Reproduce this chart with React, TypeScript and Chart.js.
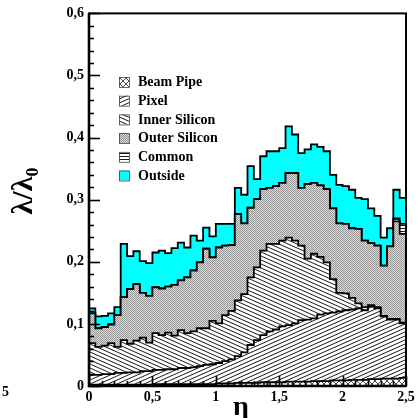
import React, { useEffect, useRef } from 'react';
import { Chart, registerables } from 'chart.js';

Chart.register(...registerables);

// ---- data (material budget per subsystem, per eta bin of width 0.05) ----
const ETA_MIN = 0;
const ETA_MAX = 2.5;
const N_BINS = 50;

const beamPipe = [
  0.002, 0.002, 0.002, 0.002, 0.002, 0.002, 0.002, 0.002, 0.002, 0.002,
  0.003, 0.003, 0.003, 0.003, 0.003, 0.003, 0.003, 0.003, 0.003, 0.003,
  0.004, 0.004, 0.004, 0.005, 0.005, 0.005, 0.005, 0.006, 0.006, 0.006,
  0.006, 0.007, 0.007, 0.007, 0.007, 0.008, 0.008, 0.008, 0.009, 0.009,
  0.009, 0.010, 0.010, 0.010, 0.011, 0.011, 0.012, 0.012, 0.012, 0.013,
];
const pixel = [
  0.016, 0.016, 0.017, 0.017, 0.019, 0.019, 0.020, 0.020, 0.022, 0.022,
  0.023, 0.023, 0.024, 0.024, 0.026, 0.026, 0.027, 0.029, 0.031, 0.032,
  0.033, 0.036, 0.039, 0.043, 0.049, 0.061, 0.069, 0.076, 0.082, 0.085,
  0.090, 0.091, 0.094, 0.099, 0.100, 0.101, 0.107, 0.109, 0.109, 0.111,
  0.113, 0.113, 0.115, 0.112, 0.117, 0.114, 0.100, 0.095, 0.095, 0.088,
];
const innerSilicon = [
  0.051, 0.045, 0.046, 0.050, 0.042, 0.053, 0.046, 0.051, 0.054, 0.046,
  0.059, 0.056, 0.059, 0.054, 0.061, 0.056, 0.058, 0.061, 0.059, 0.070,
  0.064, 0.074, 0.078, 0.090, 0.094, 0.109, 0.117, 0.136, 0.141, 0.138,
  0.138, 0.141, 0.133, 0.120, 0.098, 0.104, 0.093, 0.082, 0.054, 0.030,
  0.027, 0.019, 0.008, 0.005, 0.002, 0.002, 0.001, 0.001, 0.001, 0.001,
];
const outerSilicon = [
  0.048, 0.030, 0.030, 0.030, 0.051, 0.069, 0.088, 0.091, 0.072, 0.075,
  0.074, 0.075, 0.074, 0.082, 0.080, 0.090, 0.098, 0.106, 0.128, 0.102,
  0.122, 0.112, 0.106, 0.139, 0.114, 0.112, 0.110, 0.099, 0.090, 0.093,
  0.093, 0.104, 0.109, 0.093, 0.120, 0.114, 0.115, 0.118, 0.114, 0.112,
  0.112, 0.112, 0.120, 0.107, 0.100, 0.099, 0.081, 0.117, 0.157, 0.143,
];
const common = [
  0, 0, 0, 0, 0, 0, 0, 0, 0, 0,
  0, 0, 0, 0, 0, 0, 0, 0, 0, 0,
  0, 0, 0, 0, 0, 0, 0, 0, 0, 0,
  0, 0, 0, 0, 0, 0, 0, 0, 0, 0,
  0, 0, 0, 0, 0, 0, 0, 0, 0.005, 0.016,
];
const outside = [
  0.008, 0.019, 0.018, 0.018, 0.013, 0.086, 0.053, 0.053, 0.051, 0.053,
  0.056, 0.061, 0.054, 0.059, 0.061, 0.048, 0.056, 0.035, 0.034, 0.034,
  0.038, 0.035, 0.034, 0.042, 0.046, 0.067, 0.032, 0.053, 0.059, 0.056,
  0.056, 0.075, 0.062, 0.056, 0.056, 0.062, 0.062, 0.061, 0.054, 0.062,
  0.061, 0.062, 0.050, 0.067, 0.056, 0.048, 0.045, 0.029, 0.046, 0.042,
];

const layerNames = ['Beam Pipe', 'Pixel', 'Inner Silicon', 'Outer Silicon', 'Common', 'Outside'];
const yMajorTicks = [0, 0.1, 0.2, 0.3, 0.4, 0.5, 0.6];
const xMajorTicks = [0, 0.5, 1, 1.5, 2, 2.5];

const SERIF = '"Liberation Serif", "Times New Roman", serif';

function fmtTick(v: number): string {
  const r = Math.round(v * 10) / 10;
  if (r === 0) return '0';
  if (Number.isInteger(r)) return String(r);
  return r.toFixed(1).replace('.', ',');
}

type PatternKind = 'cross' | 'rise' | 'fall' | 'dots' | 'horiz' | 'cyan';

function makePattern(kind: PatternKind): CanvasPattern | string {
  if (kind === 'cyan') return '#00ffff';
  const c = document.createElement('canvas');
  let w = 6;
  let h = 6;
  if (kind === 'rise' || kind === 'fall') { w = 9; h = 4; }
  if (kind === 'dots') { w = 2; h = 2; }
  if (kind === 'horiz') { w = 4; h = 3; }
  c.width = w;
  c.height = h;
  const g = c.getContext('2d') as CanvasRenderingContext2D;
  g.fillStyle = '#ffffff';
  g.fillRect(0, 0, w, h);
  g.strokeStyle = '#000000';
  g.lineWidth = 0.9;
  const seg = (x1: number, y1: number, x2: number, y2: number) => {
    for (let dx = -1; dx <= 1; dx++) {
      for (let dy = -1; dy <= 1; dy++) {
        g.beginPath();
        g.moveTo(x1 + dx * w, y1 + dy * h);
        g.lineTo(x2 + dx * w, y2 + dy * h);
        g.stroke();
      }
    }
  };
  if (kind === 'cross') {
    g.lineWidth = 0.7;
    seg(0, 0, w, h);
    seg(0, h, w, 0);
  } else if (kind === 'rise') {
    seg(0, h, w, 0);
  } else if (kind === 'fall') {
    seg(0, 0, w, h);
  } else if (kind === 'dots') {
    g.fillStyle = '#dadada';
    g.fillRect(0, 0, 2, 2);
    g.fillStyle = '#969696';
    g.fillRect(0, 0, 1, 1);
    g.fillRect(1, 1, 1, 1);
  } else if (kind === 'horiz') {
    g.beginPath();
    g.moveTo(0, 0.5);
    g.lineTo(w, 0.5);
    g.stroke();
  }
  return g.createPattern(c, 'repeat') as CanvasPattern;
}

export default function App() {
  const ref = useRef<HTMLCanvasElement | null>(null);

  useEffect(() => {
    const canvas = ref.current;
    if (!canvas) return;

    const layers = [beamPipe, pixel, innerSilicon, outerSilicon, common, outside];
    const kinds: PatternKind[] = ['cross', 'rise', 'fall', 'dots', 'horiz', 'cyan'];
    const fills = kinds.map(makePattern);

    const binWidth = (ETA_MAX - ETA_MIN) / N_BINS;
    const edges = Array.from({ length: N_BINS }, (_, i) => ETA_MIN + i * binWidth);

    const running = new Array(N_BINS).fill(0);
    const datasets = layers.map((arr, k) => {
      const tops = arr.map((v, i) => (running[i] += v));
      const pts = edges.map((x, i) => ({ x, y: tops[i] }));
      pts.push({ x: ETA_MAX, y: tops[N_BINS - 1] });
      return {
        label: layerNames[k],
        data: pts,
        stepped: true as const,
        fill: k === 0 ? 'origin' : '-1',
        backgroundColor: fills[k] as any,
        borderColor: '#000000',
        borderWidth: 1.8,
        pointRadius: 0,
        pointHoverRadius: 0,
      };
    });

    const decor = {
      id: 'decor',
      afterDatasetsDraw(chart: any) {
        const ctx: CanvasRenderingContext2D = chart.ctx;
        const { left, right, top, bottom } = chart.chartArea;
        const xs = chart.scales.x;
        const ys = chart.scales.y;
        ctx.save();
        ctx.strokeStyle = '#000';
        // minor / major ticks on y (pointing inward)
        ctx.lineWidth = 1.6;
        for (let i = 0; i <= 30; i++) {
          const v = i * 0.02;
          const py = Math.round(ys.getPixelForValue(v)) + 0.5;
          const len = i % 5 === 0 ? 11 : 5;
          ctx.beginPath();
          ctx.moveTo(left, py);
          ctx.lineTo(left + len, py);
          ctx.stroke();
        }
        for (let i = 0; i <= 25; i++) {
          const v = i * 0.1;
          const px = Math.round(xs.getPixelForValue(v)) + 0.5;
          const len = i % 5 === 0 ? 10 : 5;
          ctx.beginPath();
          ctx.moveTo(px, bottom);
          ctx.lineTo(px, bottom - len);
          ctx.stroke();
        }
        // frame
        ctx.lineWidth = 2;
        ctx.strokeRect(left, top, right - left, bottom - top);
        ctx.lineWidth = 2.6;
        ctx.beginPath();
        ctx.moveTo(left, top);
        ctx.lineTo(left, bottom);
        ctx.lineTo(right, bottom);
        ctx.stroke();

        // legend
        const lx = 119;
        const ly0 = 82;
        const dy = 18.7;
        ctx.font = `bold 14px ${SERIF}`;
        ctx.textBaseline = 'middle';
        ctx.textAlign = 'left';
        layerNames.forEach((name, k) => {
          const cy = ly0 + k * dy;
          ctx.fillStyle = fills[k] as any;
          ctx.fillRect(lx, cy - 5, 10, 10);
          ctx.lineWidth = 0.8;
          ctx.strokeStyle = '#444';
          ctx.strokeRect(lx + 0.5, cy - 4.5, 10, 10);
          ctx.fillStyle = '#000';
          ctx.fillText(name, 138, cy + 0.5);
        });

        // axis titles
        ctx.fillStyle = '#000';
        ctx.save();
        ctx.translate(24, 191);
        ctx.rotate(-Math.PI / 2);
        ctx.textAlign = 'center';
        ctx.textBaseline = 'middle';
        ctx.font = `bold 30px ${SERIF}`;
        ctx.fillText('λ/λ₀', 0, 0);
        ctx.restore();

        ctx.textAlign = 'center';
        ctx.textBaseline = 'alphabetic';
        ctx.font = `bold 28px ${SERIF}`;
        ctx.fillText('η', 241, 415);

        ctx.font = `bold 14px ${SERIF}`;
        ctx.textAlign = 'left';
        ctx.textBaseline = 'middle';
        ctx.fillText('5', 2, 392);
        ctx.restore();
      },
    };

    const chart = new Chart(canvas, {
      type: 'line',
      data: { datasets: datasets as any },
      options: {
        animation: false,
        responsive: false,
        devicePixelRatio: 1,
        events: [],
        layout: { padding: { left: 0, right: 12, top: 11, bottom: 0 } },
        plugins: {
          legend: { display: false },
          tooltip: { enabled: false },
          title: { display: false },
        },
        elements: { line: { tension: 0 } },
        scales: {
          x: {
            type: 'linear',
            min: ETA_MIN,
            max: ETA_MAX,
            grid: { display: false, drawTicks: false },
            border: { display: false },
            afterBuildTicks: (s: any) => {
              s.ticks = xMajorTicks.map((v) => ({ value: v }));
            },
            afterFit: (s: any) => {
              s.height = 32;
              s.paddingLeft = 0;
              s.paddingRight = 0;
            },
            ticks: {
              autoSkip: false,
              maxRotation: 0,
              padding: 3,
              color: '#000',
              font: { family: SERIF, size: 14, weight: 'bold' },
              callback: (v: any) => fmtTick(Number(v)),
            },
          },
          y: {
            type: 'linear',
            min: 0,
            max: 0.6,
            grid: { display: false, drawTicks: false },
            border: { display: false },
            afterBuildTicks: (s: any) => {
              s.ticks = yMajorTicks.map((v) => ({ value: v }));
            },
            afterFit: (s: any) => {
              s.width = 89;
            },
            ticks: {
              autoSkip: false,
              padding: 5,
              color: '#000',
              font: { family: SERIF, size: 14, weight: 'bold' },
              callback: (v: any) => fmtTick(Number(v)),
            },
          },
        },
      },
      plugins: [decor],
    });

    return () => chart.destroy();
  }, []);

  return (
    <div style={{ position: 'fixed', left: 0, top: 0, width: 418, height: 418, background: '#fff' }}>
      <canvas ref={ref} width={418} height={418} style={{ display: 'block', width: 418, height: 418 }} />
    </div>
  );
}
